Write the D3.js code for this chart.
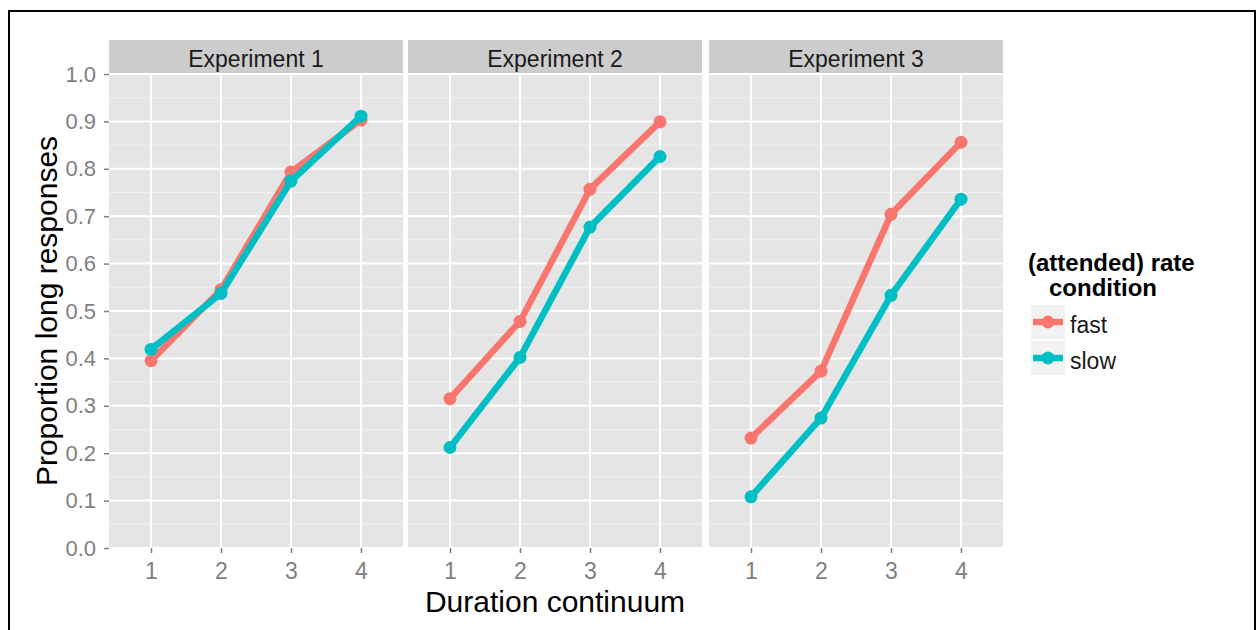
<!DOCTYPE html>
<html>
<head>
<meta charset="utf-8">
<script src="https://d3js.org/d3.v7.min.js"></script>
<style>
  body { margin: 0; background: #fff; }
  svg { font-family: "Liberation Sans", Arial, sans-serif; }
</style>
</head>
<body>
<div id="chart"></div>
<script>
// data
var panels = ["Experiment 1", "Experiment 2", "Experiment 3"];
var durations = [1, 2, 3, 4];
var conditions = ["fast", "slow"];
var fastValues = [
  [0.395, 0.545, 0.793, 0.903],
  [0.315, 0.478, 0.757, 0.899],
  [0.232, 0.373, 0.704, 0.856]
];
var slowValues = [
  [0.419, 0.537, 0.774, 0.911],
  [0.212, 0.402, 0.677, 0.826],
  [0.108, 0.274, 0.533, 0.736]
];
var yTicks = [0, 0.1, 0.2, 0.3, 0.4, 0.5, 0.6, 0.7, 0.8, 0.9, 1.0];

var width = 1259, height = 630;
var colors = {fast: "#F8766D", slow: "#00BFC4"};
var ff = "Liberation Sans, Arial, sans-serif";

var svg = d3.select("#chart").append("svg")
  .attr("width", width)
  .attr("height", height);

// outer frame
svg.append("rect")
  .attr("x", 9).attr("y", 11)
  .attr("width", 1246).attr("height", 640)
  .attr("fill", "none")
  .attr("stroke", "black")
  .attr("stroke-width", 2);

var panelLeft = [109, 408, 709];
var panelW = 294;
var stripTop = 40, plotTop = 74, plotBottom = 548;

var y = d3.scaleLinear().domain([0, 1]).range([plotBottom, plotTop]);

panels.forEach(function(name, p) {
  var x = d3.scaleLinear().domain([0.4, 4.6]).range([panelLeft[p], panelLeft[p] + panelW]);
  var g = svg.append("g");

  // strip
  g.append("rect")
    .attr("x", panelLeft[p]).attr("y", stripTop)
    .attr("width", panelW).attr("height", plotTop - stripTop)
    .attr("fill", "#CCCCCC");
  g.append("text")
    .attr("x", panelLeft[p] + panelW / 2)
    .attr("y", 67)
    .attr("text-anchor", "middle")
    .attr("font-size", "23px")
    .attr("fill", "#1A1A1A")
    .text(name);

  // panel background
  g.append("rect")
    .attr("x", panelLeft[p]).attr("y", plotTop)
    .attr("width", panelW).attr("height", plotBottom - plotTop)
    .attr("fill", "#E5E5E5");

  // minor grid
  d3.range(0.05, 1, 0.1).forEach(function(v) {
    g.append("line")
      .attr("x1", panelLeft[p]).attr("x2", panelLeft[p] + panelW)
      .attr("y1", y(v)).attr("y2", y(v))
      .attr("stroke", "#F2F2F2").attr("stroke-width", 1);
  });
  // major grid
  yTicks.forEach(function(v) {
    g.append("line")
      .attr("x1", panelLeft[p]).attr("x2", panelLeft[p] + panelW)
      .attr("y1", y(v)).attr("y2", y(v))
      .attr("stroke", "white").attr("stroke-width", 2);
  });
  durations.forEach(function(d) {
    g.append("line")
      .attr("x1", x(d)).attr("x2", x(d))
      .attr("y1", plotTop).attr("y2", plotBottom)
      .attr("stroke", "white").attr("stroke-width", 2);
  });

  // x axis
  var xa = g.append("g")
    .attr("transform", "translate(0," + plotBottom + ")")
    .call(d3.axisBottom(x).tickValues(durations).tickFormat(d3.format("d")).tickSize(5).tickPadding(10));
  xa.select(".domain").remove();
  xa.selectAll("line").attr("stroke", "#7F7F7F").attr("stroke-width", 1.5);
  xa.selectAll("text").attr("fill", "#7F7F7F").attr("font-size", "23px")
    .attr("font-family", ff);

  // lines + points
  var sets = [fastValues[p], slowValues[p]];
  conditions.forEach(function(c, k) {
    var vals = sets[k];
    var line = d3.line()
      .x(function(d, i) { return x(durations[i]); })
      .y(function(d) { return y(d); });
    g.append("path")
      .datum(vals)
      .attr("fill", "none")
      .attr("stroke", colors[c])
      .attr("stroke-width", 6.5)
      .attr("stroke-linejoin", "round")
      .attr("d", line);
    g.selectAll(".pt" + k)
      .data(vals)
      .enter().append("circle")
      .attr("cx", function(d, i) { return x(durations[i]); })
      .attr("cy", function(d) { return y(d); })
      .attr("r", 6.5)
      .attr("fill", colors[c]);
  });
});

// y axis
var ya = svg.append("g")
  .attr("transform", "translate(" + panelLeft[0] + ",0)")
  .call(d3.axisLeft(y).tickValues(yTicks).tickFormat(d3.format(".1f")).tickSize(5).tickPadding(8));
ya.select(".domain").remove();
ya.selectAll("line").attr("stroke", "#7F7F7F").attr("stroke-width", 1.5);
ya.selectAll("text").attr("fill", "#7F7F7F").attr("font-size", "22px")
  .attr("font-family", ff);

// axis titles
svg.append("text")
  .attr("transform", "translate(57," + ((plotTop + plotBottom) / 2) + ") rotate(-90)")
  .attr("text-anchor", "middle")
  .attr("font-size", "30px")
  .attr("fill", "black")
  .text("Proportion long responses");

svg.append("text")
  .attr("x", 555)
  .attr("y", 612)
  .attr("text-anchor", "middle")
  .attr("font-size", "30px")
  .attr("fill", "black")
  .text("Duration continuum");

// legend
var lg = svg.append("g");
lg.append("text")
  .attr("x", 1028).attr("y", 271)
  .attr("font-size", "24px").attr("font-weight", "bold")
  .text("(attended) rate");
lg.append("text")
  .attr("x", 1049).attr("y", 296)
  .attr("font-size", "24px").attr("font-weight", "bold")
  .text("condition");

conditions.forEach(function(c, i) {
  var ky = 305 + i * 36;
  lg.append("rect")
    .attr("x", 1031).attr("y", ky)
    .attr("width", 34).attr("height", 34)
    .attr("fill", "#F2F2F2");
  lg.append("line")
    .attr("x1", 1033).attr("x2", 1063)
    .attr("y1", ky + 17).attr("y2", ky + 17)
    .attr("stroke", colors[c]).attr("stroke-width", 6.5);
  lg.append("circle")
    .attr("cx", 1048).attr("cy", ky + 17).attr("r", 6.5)
    .attr("fill", colors[c]);
  lg.append("text")
    .attr("x", 1070).attr("y", ky + 28)
    .attr("font-size", "23px")
    .attr("fill", "#1A1A1A")
    .text(c);
});
</script>
</body>
</html>
